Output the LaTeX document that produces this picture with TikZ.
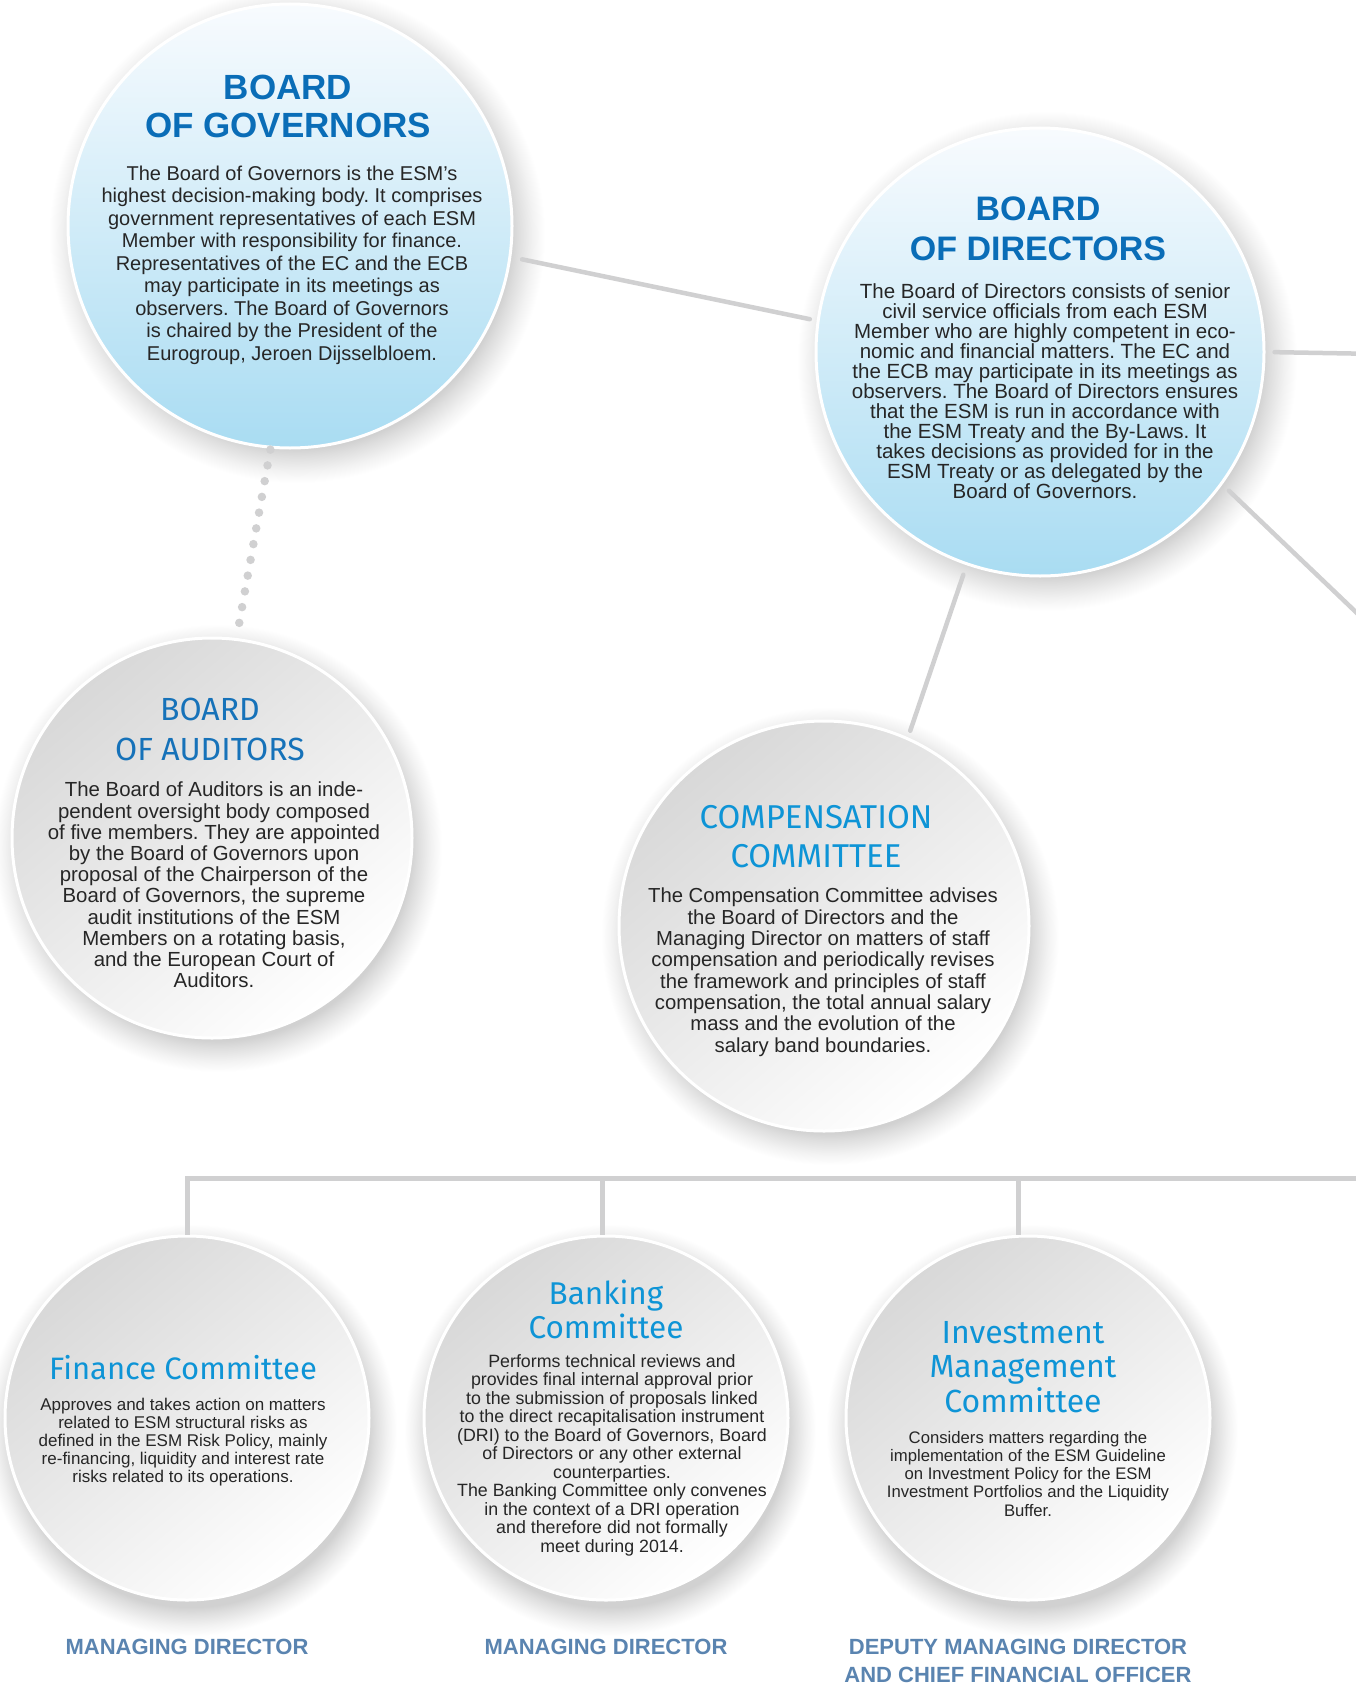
\documentclass[tikz,border=0pt]{standalone}
\usepackage{fontspec}
\setmainfont{Liberation Sans}
\newfontfamily\firafont{Fira Sans}
\definecolor{lc}{HTML}{D0D0D1}
\definecolor{txt}{HTML}{262626}
\definecolor{bigblue}{HTML}{0A6DB7}
\definecolor{audblue}{HTML}{1672B9}
\definecolor{combblue}{HTML}{0E94D6}
\definecolor{labblue}{HTML}{5A84B0}
\definecolor{bltop}{HTML}{F8FBFE}
\definecolor{blbot}{HTML}{A9DCF2}
\definecolor{grtop}{HTML}{D8D8D8}
\colorlet{shA}{black!18}
\colorlet{shB}{black!13}
\colorlet{shC}{black!5}
\pgfdeclareradialshading{softsh}{\pgfpoint{0bp}{0bp}}{color(0bp)=(shA); color(21.5bp)=(shA); color(22.3bp)=(shB); color(23.8bp)=(shC); color(25bp)=(white); color(50bp)=(white)}
\frenchspacing
\begin{document}
\begin{tikzpicture}[x=1pt,y=-1pt,
  softshadow/.style={shading=softsh},
  bluecirc/.style={circle, inner sep=0pt, minimum size=#1, draw=white, line width=3pt, top color=bltop, bottom color=blbot},
  graycirc/.style={circle, inner sep=0pt, minimum size=#1, draw=white, line width=3pt, top color=grtop, bottom color=white, shading angle=40},
  titleA/.style={anchor=north, inner sep=0pt, align=center, text=bigblue},
  titleB/.style={anchor=north, inner sep=0pt, align=center, text=combblue},
  bodytxt/.style={anchor=north, inner sep=0pt, align=center, text=txt},
  lab/.style={anchor=north, inner sep=0pt, align=center, text=labblue, font=\bfseries\fontsize{22}{28}\selectfont},
  conn/.style={draw=lc, line width=4.5pt, line cap=round},
  dotline/.style={draw=lc, line width=8.5pt, line cap=round, dash pattern=on 0pt off 16pt},
  bar/.style={draw=lc, line width=5pt, line join=miter}
]
\useasboundingbox (0,0) rectangle (1356,1683);
\fill[white] (0,0) rectangle (1356,1683);

% soft shadows
\shade[softshadow] (297,235) circle[radius=248pt];
\shade[softshadow] (1047,361) circle[radius=250pt];
\shade[softshadow] (218,848) circle[radius=224pt];
\shade[softshadow] (830,936) circle[radius=229pt];
\shade[softshadow] (191,1430) circle[radius=206pt];
\shade[softshadow] (610,1430) circle[radius=206pt];
\shade[softshadow] (1032,1430) circle[radius=206pt];

% circles
\node[bluecirc=444pt] (bog) at (290,226) {};
\node[bluecirc=448pt] (bod) at (1040,352) {};
\node[graycirc=400pt] (boa) at (212,838) {};
\node[graycirc=410pt] (comp) at (824,926) {};
\node[graycirc=364pt] (fin) at (187,1418) {};
\node[graycirc=364pt] (ban) at (606,1418) {};
\node[graycirc=364pt] (inv) at (1028,1418) {};

% connectors
\draw[conn, shorten <=11pt, shorten >=7pt] (bog.-8.8) -- (bod.172.6);
\coordinate (rEnd) at (1380,354);
\draw[conn, shorten <=9pt] (bod.-0.5) -- (rEnd);
\coordinate (dEnd) at (1382,637);
\draw[conn, shorten <=9pt] (bod.-36.8) -- (dEnd);
\draw[conn, shorten <=10pt, shorten >=7pt] (bod.-109.4) -- (comp.66.8);
\draw[dotline, shorten <=1pt, shorten >=10pt] (bog.-95.6) -- (boa.83.8);

\coordinate (barR) at (1380,1178);
\draw[bar] (barR) -| (fin.north);
\coordinate (v2) at ([xshift=-4pt]ban.north);
\draw[bar] (v2) -- (v2 |- barR);
\coordinate (v3) at ([xshift=-10pt]inv.north);
\draw[bar] (v3) -- (v3 |- barR);

% texts
\node[titleA, font=\bfseries\fontsize{35}{38}\selectfont] (bogt) at (288,74.5) {BOARD\\OF GOVERNORS};
\node[bodytxt, font=\fontsize{20}{22.5}\selectfont] (bogb) at (292,165.4) {The Board of Governors is the ESM’s\\highest decision-making body. It comprises\\government representatives of each ESM\\Member with responsibility for finance.\\Representatives of the EC and the ECB\\may participate in its meetings as\\observers. The Board of Governors\\is chaired by the President of the\\Eurogroup, Jeroen Dijsselbloem.};

\node[titleA, font=\bfseries\fontsize{34}{40}\selectfont] (bodt) at (1038,196.5) {BOARD\\OF DIRECTORS};
\node[bodytxt, font=\fontsize{20.5}{20}\selectfont] (bodb) at (1045,283) {The Board of Directors consists of senior\\civil service officials from each ESM\\Member who are highly competent in eco-\\nomic and financial matters. The EC and\\the ECB may participate in its meetings as\\observers. The Board of Directors ensures\\that the ESM is run in accordance with\\the ESM Treaty and the By-Laws. It\\takes decisions as provided for in the\\ESM Treaty or as delegated by the\\Board of Governors.};

\node[titleB, text=audblue, font=\firafont\fontsize{32}{40}\selectfont] (boat) at (210,698) {BOARD\\OF AUDITORS};
\node[bodytxt, font=\fontsize{20.4}{21.2}\selectfont] (boab) at (214,782) {The Board of Auditors is an inde-\\pendent oversight body composed\\of five members. They are appointed\\by the Board of Governors upon\\proposal of the Chairperson of the\\Board of Governors, the supreme\\audit institutions of the ESM\\Members on a rotating basis,\\and the European Court of\\Auditors.};

\node[titleB, font=\firafont\fontsize{33}{39}\selectfont] (compt) at (816,805) {COMPENSATION\\COMMITTEE};
\node[bodytxt, font=\fontsize{20.3}{21.3}\selectfont] (compb) at (823,888) {The Compensation Committee advises\\the Board of Directors and the\\Managing Director on matters of staff\\compensation and periodically revises\\the framework and principles of staff\\compensation, the total annual salary\\mass and the evolution of the\\salary band boundaries.};

\node[titleB, font=\firafont\fontsize{31}{34}\selectfont] (fint) at (183,1355) {Finance Committee};
\node[bodytxt, font=\fontsize{17}{18}\selectfont] (finb) at (183,1397.6) {Approves and takes action on matters\\related to ESM structural risks as\\defined in the ESM Risk Policy, mainly\\re-financing, liquidity and interest rate\\risks related to its operations.};

\node[titleB, font=\firafont\fontsize{31.5}{34}\selectfont] (bant) at (606,1280) {Banking\\Committee};
\node[bodytxt, font=\fontsize{17.8}{18.5}\selectfont] (banb) at (612,1354.2) {Performs technical reviews and\\provides final internal approval prior\\to the submission of proposals linked\\to the direct recapitalisation instrument\\(DRI) to the Board of Governors, Board\\of Directors or any other external\\counterparties.\\The Banking Committee only convenes\\in the context of a DRI operation\\and therefore did not formally\\meet during 2014.};

\node[titleB, font=\firafont\fontsize{32}{34.5}\selectfont] (invt) at (1023,1321) {Investment\\Management\\Committee};
\node[bodytxt, font=\fontsize{16.7}{18.2}\selectfont] (invb) at (1028,1431) {Considers matters regarding the\\implementation of the ESM Guideline\\on Investment Policy for the ESM\\Investment Portfolios and the Liquidity\\Buffer.};

\node[lab] (l1) at (187,1639) {MANAGING DIRECTOR};
\node[lab] (l2) at (606,1639) {MANAGING DIRECTOR};
\node[lab] (l3) at (1018,1639) {DEPUTY MANAGING DIRECTOR\\AND CHIEF FINANCIAL OFFICER};
\end{tikzpicture}
\end{document}
